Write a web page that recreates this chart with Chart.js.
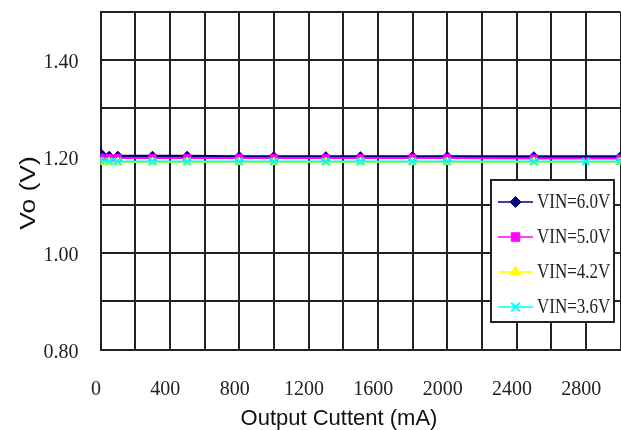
<!DOCTYPE html>
<html>
<head>
<meta charset="utf-8">
<script src="https://cdn.jsdelivr.net/npm/chart.js@4"></script>
<style>
  html, body { margin: 0; padding: 0; background: #fff; overflow: hidden; }
  #wrap { width: 621px; height: 430px; }
</style>
</head>
<body>
<div id="wrap"><canvas id="c" width="621" height="430"></canvas></div>
<script>
// Output current (mA) for each measured point
const currentMA   = [0, 50, 100, 300, 500, 800, 1000, 1300, 1500, 1800, 2000, 2500, 3000];
const currentMA36 = [0, 50, 100, 300, 500, 800, 1000, 1300, 1500, 1800, 2000, 2500, 2800, 3000];

// Output voltage Vo (V) per input voltage
const vin60 = [1.208, 1.202, 1.202, 1.202, 1.202, 1.201, 1.201, 1.201, 1.201, 1.201, 1.201, 1.201, 1.201];
const vin50 = [1.198, 1.197, 1.197, 1.197, 1.197, 1.197, 1.197, 1.197, 1.197, 1.197, 1.197, 1.196, 1.196];
const vin42 = [1.189, 1.189, 1.189, 1.189, 1.189, 1.189, 1.189, 1.189, 1.189, 1.189, 1.189, 1.189, 1.189];
const vin36 = [1.191, 1.190, 1.190, 1.190, 1.190, 1.190, 1.190, 1.190, 1.190, 1.190, 1.190, 1.190, 1.190, 1.190];

const seriesLabels = ['VIN=6.0V', 'VIN=5.0V', 'VIN=4.2V', 'VIN=3.6V'];
const xLabelTicks = [0, 400, 800, 1200, 1600, 2000, 2400, 2800];
const yLabelTicks = [0.8, 1.0, 1.2, 1.4];
const xTitle = 'Output Cuttent (mA)';
const yTitle = 'Vo (V)';

const pts = (xs, ys) => xs.map((x, i) => ({ x, y: ys[i] }));

const styles = [
  { color: '#000080', pointStyle: 'rectRot', radius: 4.5, pbw: 1, order: 3 },
  { color: '#ff00ff', pointStyle: 'rect', radius: 5, pbw: 1, order: 2 },
  { color: '#ffff00', pointStyle: 'triangle', radius: 5, pbw: 1, order: 1 },
  { color: '#00ffff', pointStyle: 'crossRot', radius: 5, pbw: 2, order: 0 }
];
const seriesData = [pts(currentMA, vin60), pts(currentMA, vin50), pts(currentMA, vin42), pts(currentMA36, vin36)];

const datasets = seriesData.map((d, i) => ({
  label: seriesLabels[i],
  data: d,
  order: styles[i].order,
  borderColor: styles[i].color,
  backgroundColor: styles[i].color,
  pointBackgroundColor: styles[i].color,
  pointBorderColor: styles[i].color,
  pointStyle: styles[i].pointStyle,
  pointRadius: styles[i].radius,
  pointBorderWidth: styles[i].pbw,
  borderWidth: 2,
  tension: 0
}));

// Boxed legend drawn inside the plot, plus axis titles
const overlay = {
  id: 'overlay',
  afterDraw(chart) {
    const ctx = chart.ctx;
    ctx.save();
    // axis titles
    ctx.fillStyle = '#111';
    ctx.font = '22px "Liberation Sans", Arial, sans-serif';
    ctx.textAlign = 'center';
    ctx.textBaseline = 'alphabetic';
    ctx.fillText(xTitle, 339, 425);
    ctx.save();
    ctx.translate(35, 193);
    ctx.rotate(-Math.PI / 2);
    ctx.scale(1.2, 1);
    ctx.fillText(yTitle, 0, 0);
    ctx.restore();

    // legend box
    const bx = 491, by = 180, bw = 123, bh = 142;
    ctx.fillStyle = '#fff';
    ctx.fillRect(bx, by, bw, bh);
    ctx.strokeStyle = '#222';
    ctx.lineWidth = 2;
    ctx.strokeRect(bx, by, bw, bh);
    chart.data.datasets.forEach((ds, i) => {
      const y = 202 + 35 * i;
      ctx.strokeStyle = ds.borderColor;
      ctx.fillStyle = ds.borderColor;
      ctx.lineWidth = 1.5;
      ctx.beginPath();
      ctx.moveTo(498, y);
      ctx.lineTo(533, y);
      ctx.stroke();
      ctx.lineWidth = ds.pointBorderWidth;
      Chart.helpers.drawPoint(ctx, { pointStyle: ds.pointStyle, rotation: 0, radius: ds.pointRadius + 1, borderWidth: ds.pointBorderWidth }, 515.5, y);
      ctx.save();
      ctx.fillStyle = '#222';
      ctx.font = '20px "Liberation Serif", "Times New Roman", serif';
      ctx.textAlign = 'left';
      ctx.textBaseline = 'middle';
      ctx.translate(537, y + 1);
      ctx.scale(0.85, 1);
      ctx.fillText(ds.label, 0, 0);
      ctx.restore();
    });
    ctx.restore();
  }
};

// fixed axis sizes, no extra edge padding from the tick labels
const fitX = s => { s.height = 80.5; s.paddingLeft = 0; s.paddingRight = 0; s.paddingTop = 0; s.paddingBottom = 0; };
const fitY = s => { s.width = 100.5; s.paddingLeft = 0; s.paddingRight = 0; s.paddingTop = 0; s.paddingBottom = 0; };

new Chart(document.getElementById('c'), {
  type: 'line',
  data: { datasets },
  options: {
    responsive: false,
    animation: false,
    devicePixelRatio: 1,
    layout: { autoPadding: false, padding: { left: 0, right: 0.5, top: 12, bottom: 0 } },
    plugins: { legend: { display: false }, tooltip: { enabled: false } },
    scales: {
      x: {
        type: 'linear',
        min: 0, max: 3000,
        afterFit: fitX,
        grid: { color: '#222', lineWidth: 2, drawTicks: false },
        border: { color: '#222', width: 2 },
        ticks: {
          stepSize: 200,
          padding: 28,
          labelOffset: -4.5,
          maxRotation: 0,
          autoSkip: false,
          color: '#222',
          font: { family: '"Liberation Serif", "Times New Roman", serif', size: 20 },
          callback: v => (xLabelTicks.includes(Math.round(v)) ? String(Math.round(v)) : '')
        }
      },
      y: {
        min: 0.8, max: 1.5,
        afterFit: fitY,
        grid: { color: '#222', lineWidth: 2, drawTicks: false },
        border: { color: '#222', width: 2 },
        ticks: {
          stepSize: 0.1,
          padding: 22,
          labelOffset: 3,
          autoSkip: false,
          color: '#222',
          font: { family: '"Liberation Serif", "Times New Roman", serif', size: 20 },
          callback: v => {
            const r = Math.round(v * 10) / 10;
            return yLabelTicks.some(t => Math.abs(t - r) < 1e-6) ? r.toFixed(2) : '';
          }
        }
      }
    }
  },
  plugins: [overlay]
});
</script>
</body>
</html>
